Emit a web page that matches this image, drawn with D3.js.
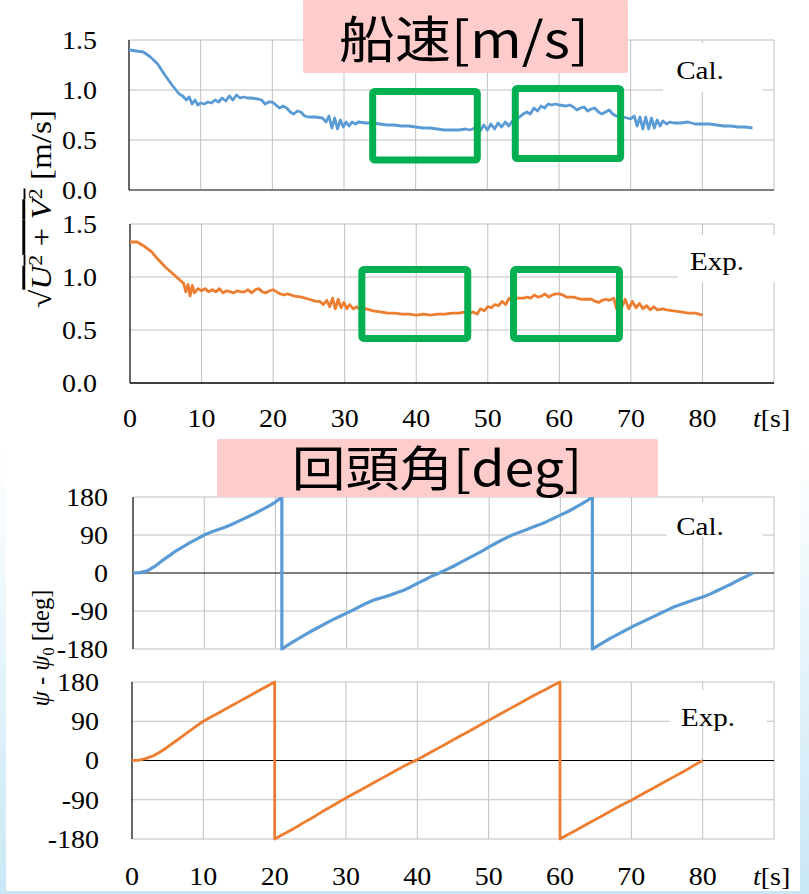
<!DOCTYPE html>
<html><head><meta charset="utf-8">
<script src="https://cdn.jsdelivr.net/npm/d3@7"></script>
<style>body{margin:0;background:#fff}svg{display:block}
.serif{font-family:'Liberation Serif','Times New Roman',serif}
.cjk{font-family:'Noto Sans CJK JP','Noto Sans CJK SC',sans-serif}
</style>
</head><body><svg id="c" width="809" height="894"></svg>
<script>
// ---------- data ----------
const timeTicks = [0,10,20,30,40,50,60,70,80];
const timeDomain = [0,90];
const speedTicks = [0,0.5,1.0,1.5];
const speedTickLabels = ["0.0","0.5","1.0","1.5"];
const headingTicks = [-180,-90,0,90,180];
const headingTickLabels = ["-180","-90","0","90","180"];

const calSpeed = [[0,1.40],[1,1.39],[2,1.38],[3,1.33],[4,1.26],[5,1.15],[6,1.05],[7,0.96],[7.5,0.94],[8,0.90],[8.4,0.93],[8.8,0.86],[9.2,0.90],[9.6,0.85],[10,0.87],[10.5,0.86],[11,0.88],[11.5,0.87],[12,0.90],[12.5,0.88],[13,0.92],[13.5,0.89],[14,0.94],[14.5,0.90],[15,0.95],[15.5,0.92],[16,0.93],[16.5,0.92],[17,0.92],[18,0.91],[18.5,0.90],[19,0.86],[19.5,0.88],[20,0.88],[20.5,0.85],[21,0.82],[21.5,0.84],[22,0.82],[22.5,0.78],[23,0.76],[23.5,0.79],[24,0.78],[24.5,0.74],[25,0.73],[26,0.73],[27,0.72],[27.5,0.68],[27.9,0.74],[28.3,0.62],[28.7,0.72],[29.1,0.61],[29.5,0.70],[29.9,0.63],[30.3,0.68],[30.7,0.64],[31.1,0.68],[31.6,0.66],[32,0.68],[33,0.67],[34,0.67],[35,0.66],[36,0.65],[37,0.65],[38,0.64],[39,0.64],[40,0.63],[41,0.62],[42,0.62],[43,0.61],[44,0.60],[45,0.60],[46,0.60],[47,0.61],[47.5,0.60],[48,0.61],[48.5,0.64],[49,0.59],[49.5,0.65],[50,0.60],[50.5,0.66],[51,0.61],[51.5,0.67],[52,0.63],[52.5,0.68],[53,0.64],[53.5,0.69],[54,0.71],[54.5,0.73],[55,0.76],[55.5,0.78],[56,0.76],[56.5,0.82],[57,0.79],[57.5,0.84],[58,0.82],[58.5,0.86],[59,0.85],[59.5,0.86],[60,0.85],[61,0.84],[61.5,0.85],[62,0.83],[62.5,0.80],[63,0.82],[63.5,0.83],[64,0.79],[64.5,0.81],[65,0.82],[65.5,0.78],[66,0.76],[66.5,0.78],[67,0.80],[67.5,0.76],[68,0.74],[68.5,0.73],[69,0.73],[69.5,0.72],[70,0.71],[70.5,0.74],[70.9,0.64],[71.3,0.73],[71.7,0.61],[72.1,0.73],[72.5,0.61],[72.9,0.72],[73.3,0.62],[73.7,0.70],[74.1,0.64],[74.5,0.69],[75,0.66],[75.5,0.68],[76,0.67],[77,0.67],[78,0.68],[79,0.66],[80,0.66],[81,0.66],[82,0.65],[83,0.64],[84,0.64],[85,0.63],[86,0.63],[87,0.62]];

const expSpeed = [[0,1.33],[1,1.33],[2,1.29],[3,1.24],[4,1.16],[5,1.09],[6,1.03],[7,0.97],[7.5,0.94],[7.8,0.86],[8.1,0.93],[8.4,0.82],[8.7,0.92],[9,0.85],[9.5,0.89],[10,0.87],[10.5,0.89],[11,0.86],[11.5,0.88],[12,0.86],[12.5,0.89],[13,0.85],[13.5,0.87],[14,0.86],[14.5,0.85],[15,0.87],[15.5,0.86],[16,0.86],[16.5,0.88],[17,0.85],[17.5,0.88],[18,0.89],[18.5,0.86],[19,0.85],[19.5,0.87],[20,0.88],[20.5,0.86],[21,0.84],[21.5,0.83],[22,0.84],[22.5,0.83],[23,0.82],[24,0.81],[25,0.79],[26,0.77],[26.5,0.77],[27,0.74],[27.5,0.78],[27.9,0.72],[28.3,0.80],[28.7,0.70],[29.1,0.79],[29.5,0.71],[29.9,0.76],[30.3,0.70],[30.7,0.74],[31.2,0.70],[31.7,0.72],[32,0.70],[33,0.70],[34,0.68],[35,0.67],[36,0.66],[37,0.66],[38,0.65],[39,0.65],[40,0.64],[41,0.65],[42,0.64],[43,0.65],[44,0.65],[45,0.66],[46,0.66],[47,0.67],[47.5,0.66],[48,0.67],[48.5,0.65],[49,0.70],[49.5,0.68],[50,0.72],[50.5,0.71],[51,0.74],[51.5,0.73],[52,0.77],[52.5,0.74],[53,0.80],[53.5,0.78],[54,0.80],[55,0.80],[55.5,0.81],[56,0.80],[56.5,0.83],[57,0.81],[57.5,0.82],[58,0.84],[58.5,0.81],[59,0.83],[59.5,0.84],[60,0.84],[60.5,0.83],[61,0.81],[62,0.81],[63,0.79],[64,0.79],[64.5,0.79],[65,0.77],[65.5,0.76],[66,0.78],[66.5,0.79],[67,0.78],[67.6,0.80],[68,0.70],[68.3,0.80],[68.7,0.71],[69.2,0.79],[69.7,0.70],[70.2,0.77],[70.7,0.71],[71.2,0.75],[71.7,0.70],[72.2,0.73],[72.7,0.69],[73.2,0.72],[73.7,0.69],[74.5,0.70],[75,0.69],[76,0.68],[77,0.67],[78,0.66],[79,0.66],[80,0.64]];

const calHeading = [[0,0],[1,1],[2,5],[3,15],[4,28],[5,40],[6,52],[7,62],[8,72],[9,81],[10,90],[11,97],[12,103],[13,109],[14,116],[15,124],[16,132],[17,140],[18,149],[19,158],[20,168],[20.9,180],[20.9,-180],[22,-168],[23,-158],[24,-148],[25,-138],[26,-129],[27,-120],[28,-111],[29,-103],[30,-95],[31,-87],[32,-78],[33,-70],[34,-63],[35,-58],[36,-53],[37,-47],[38,-41],[39,-33],[40,-24],[41,-16],[42,-7],[43,0],[44,8],[45,16],[46,25],[47,34],[48,43],[49,52],[50,62],[51,71],[52,80],[53,88],[54,95],[55,101],[56,108],[57,114],[58,121],[59,129],[60,137],[61,145],[62,154],[63,164],[64,174],[64.5,180],[64.5,-180],[66,-165],[67,-155],[68,-146],[69,-137],[70,-128],[71,-120],[72,-112],[73,-104],[74,-96],[75,-88],[76,-80],[77,-74],[78,-68],[79,-62],[80,-57],[81,-50],[82,-42],[83,-34],[84,-26],[85,-17],[86,-9],[87,0]];

const expHeading = [[0,0],[1,1],[2,5],[3,11],[4,20],[5,31],[6,43],[7,55],[8,67],[9,79],[10,90],[11,99],[12,108],[13,117],[14,126],[15,135],[16,144],[17,153],[18,162],[19,171],[20,180],[20,-180],[21,-171],[22,-162],[23,-153],[24,-143],[25,-134],[26,-124],[27,-114],[28,-105],[29,-95],[30,-86],[31,-77],[32,-68],[33,-59],[34,-50],[35,-41],[36,-32],[37,-23],[38,-14],[39,-6],[40,2],[41,11],[42,20],[43,29],[44,38],[45,47],[46,56],[47,65],[48,74],[49,83],[50,92],[51,101],[52,110],[53,119],[54,128],[55,137],[56,146],[57,155],[58,163],[59,172],[60,180],[60,-180],[61,-171],[62,-162],[63,-153],[64,-144],[65,-135],[66,-126],[67,-117],[68,-108],[69,-99],[70,-91],[71,-82],[72,-73],[73,-64],[74,-55],[75,-46],[76,-37],[77,-28],[78,-19],[79,-9],[80,0]];

// highlight boxes: [t0, t1, v0, v1]
const calSpeedBoxes = [[34,48.6,0.3,0.985],[53.9,68.6,0.315,1.015]];
const expSpeedBoxes = [[32.4,47.2,0.42,1.07],[53.6,68.4,0.42,1.07]];

// ---------- drawing ----------
const BLUE = "#5b9bd5", ORANGE = "#ed7d31", GREEN = "#00b050", GRID = "#c0c0c0";
const SX = 1.12;
const FS = 25;
const svg = d3.select("#c");

const defs = svg.append("defs");
const gr = defs.append("linearGradient").attr("id","bg").attr("x1",0).attr("y1",0).attr("x2",0).attr("y2",1);
gr.append("stop").attr("offset","0.5").attr("stop-color","#ffffff");
gr.append("stop").attr("offset","1").attr("stop-color","#c9e7f5");
svg.append("rect").attr("width",809).attr("height",894).attr("fill","url(#bg)");
svg.append("rect").attr("x",6).attr("y",0).attr("width",794).attr("height",891).attr("fill","#fff");

const panels = [
  {L:129,R:774,T:40,B:190,yDomain:[0,1.5],yTicks:speedTicks,yLabels:speedTickLabels,data:calSpeed,color:BLUE,lw:2.8,
   base:{v:0,color:"#7f7f7f",w:2},labelRight:97,xLabels:false,boxes:calSpeedBoxes,
   tag:{text:"Cal.",x:663,y:43,w:99,h:49,tx:700,ty:70}},
  {L:130,R:774,T:224,B:383,yDomain:[0,1.5],yTicks:speedTicks,yLabels:speedTickLabels,data:expSpeed,color:ORANGE,lw:2.8,
   base:{v:0,color:"#000",w:1.5},labelRight:97,xLabels:true,xBase:427,boxes:expSpeedBoxes,
   tag:{text:"Exp.",x:678,y:235,w:100,h:47,tx:717,ty:261}},
  {L:133,R:774,T:497,B:649,yDomain:[-180,180],yTicks:headingTicks,yLabels:headingTickLabels,data:calHeading,color:BLUE,lw:3.2,
   base:{v:0,color:"#000",w:1},labelRight:108,xLabels:false,boxes:[],
   tag:{text:"Cal.",x:667,y:502,w:96,h:35,tx:700,ty:526}},
  {L:132,R:774,T:682,B:839,yDomain:[-180,180],yTicks:headingTicks,yLabels:headingTickLabels,data:expHeading,color:ORANGE,lw:2.8,
   base:{v:0,color:"#000",w:1},labelRight:99,xLabels:true,xBase:885,boxes:[],
   tag:{text:"Exp.",x:670,y:690,w:97,h:33,tx:708,ty:717}}
];

function drawPanel(p){
  const x = d3.scaleLinear().domain(timeDomain).range([p.L,p.R]);
  const y = d3.scaleLinear().domain(p.yDomain).range([p.B,p.T]);
  const g = svg.append("g");
  const vt = timeTicks.filter(d=>d>timeDomain[0]).concat([timeDomain[1]]);
  g.selectAll(".vg").data(vt).join("line")
    .attr("x1",d=>x(d)).attr("x2",d=>x(d)).attr("y1",y(p.yDomain[1])).attr("y2",y(p.yDomain[0]))
    .attr("stroke",GRID).attr("stroke-width",1);
  g.selectAll(".hg").data(p.yTicks.filter(d=>d!==p.base.v)).join("line")
    .attr("x1",p.L).attr("x2",p.R).attr("y1",d=>y(d)).attr("y2",d=>y(d))
    .attr("stroke",GRID).attr("stroke-width",1);
  g.append("line").attr("x1",p.L).attr("x2",p.R).attr("y1",y(p.base.v)).attr("y2",y(p.base.v))
    .attr("stroke",p.base.color).attr("stroke-width",p.base.w);
  g.append("line").attr("x1",p.L).attr("x2",p.L).attr("y1",y(p.yDomain[1])).attr("y2",y(p.yDomain[0]))
    .attr("stroke","#000").attr("stroke-width",1.2);
  // y tick labels
  g.selectAll(".yl").data(p.yTicks).join("text").attr("class","serif")
    .attr("font-size",FS).attr("text-anchor","end").attr("dy","0.35em")
    .attr("transform",d=>`translate(${p.labelRight},${y(d)}) scale(${SX},1)`)
    .text((d,i)=>p.yLabels[i]);
  if(p.xLabels){
    g.selectAll(".xl").data(timeTicks).join("text").attr("class","serif")
      .attr("font-size",FS).attr("text-anchor","middle")
      .attr("transform",d=>`translate(${x(d)},${p.xBase}) scale(${SX},1)`)
      .text(d3.format("d"));
    const tl = g.append("text").attr("class","serif").attr("font-size",FS)
      .attr("transform",`translate(753,${p.xBase}) scale(${SX},1)`);
    tl.append("tspan").attr("font-style","italic").text("t");
    tl.append("tspan").text("[s]");
  }
  g.append("rect").attr("x",p.tag.x).attr("y",p.tag.y).attr("width",p.tag.w).attr("height",p.tag.h).attr("fill","#fff");
  g.append("text").attr("class","serif").attr("font-size",26).attr("text-anchor","middle")
    .attr("dominant-baseline","central").attr("transform",`translate(${p.tag.tx},${p.tag.ty}) scale(${SX},1)`).text(p.tag.text);
  const line = d3.line().x(d=>x(d[0])).y(d=>y(d[1]));
  g.append("path").datum(p.data).attr("d",line).attr("fill","none")
    .attr("stroke",p.color).attr("stroke-width",p.lw).attr("stroke-linejoin","round");
  p.x = x; p.y = y;
}
panels.forEach(drawPanel);

function title(bx,by,bw,bh,tx,ty,size,str){
  svg.append("rect").attr("x",bx).attr("y",by).attr("width",bw).attr("height",bh).attr("rx",2).attr("fill","#ffcccc");
  svg.append("text").attr("class","cjk").attr("font-size",size).attr("text-anchor","middle")
    .attr("dominant-baseline","central").attr("fill","#000")
    .attr("transform",`translate(${tx},${ty}) scale(${SX},1)`).text(str);
}
title(303,0,325,73,464,36,50,"船速[m/s]");
title(217,439,441,58,437,465,48,"回頭角[deg]");

[[panels[0],calSpeedBoxes],[panels[1],expSpeedBoxes]].forEach(([p,bx])=>{
  svg.selectAll(null).data(bx).join("rect")
    .attr("x",d=>p.x(d[0])).attr("width",d=>p.x(d[1])-p.x(d[0]))
    .attr("y",d=>p.y(d[3])).attr("height",d=>p.y(d[2])-p.y(d[3]))
    .attr("rx",2).attr("fill","none").attr("stroke",GREEN).attr("stroke-width",7);
});

function rotLabel(cx,cy,len,fs,build){
  const t = svg.append("text").attr("class","serif").attr("font-size",fs).attr("text-anchor","middle").attr("fill","#000");
  build(t);
  const w = t.node().getBBox().width;
  t.attr("transform",`translate(${cx},${cy}) rotate(-90) scale(${len/w},1)`).attr("dy","0.35em");
}
rotLabel(41,209,198,29,t=>{
  t.append("tspan").text("√");
  const o = t.append("tspan").attr("text-decoration","overline");
  o.append("tspan").attr("font-style","italic").text("U");
  o.append("tspan").attr("font-size",19).attr("dy",-9).text("2");
  o.append("tspan").attr("dy",9).text(" + ");
  o.append("tspan").attr("font-style","italic").text("V");
  o.append("tspan").attr("font-size",19).attr("dy",-9).text("2");
  t.append("tspan").attr("dy",9).text(" [m/s]");
});
rotLabel(40,648,117,26,t=>{
  t.append("tspan").attr("font-style","italic").text("ψ");
  t.append("tspan").text(" - ");
  t.append("tspan").attr("font-style","italic").text("ψ");
  t.append("tspan").attr("font-size",17).attr("dy",5).text("0");
  t.append("tspan").attr("dy",-5).text(" [deg]");
});
</script></body></html>
